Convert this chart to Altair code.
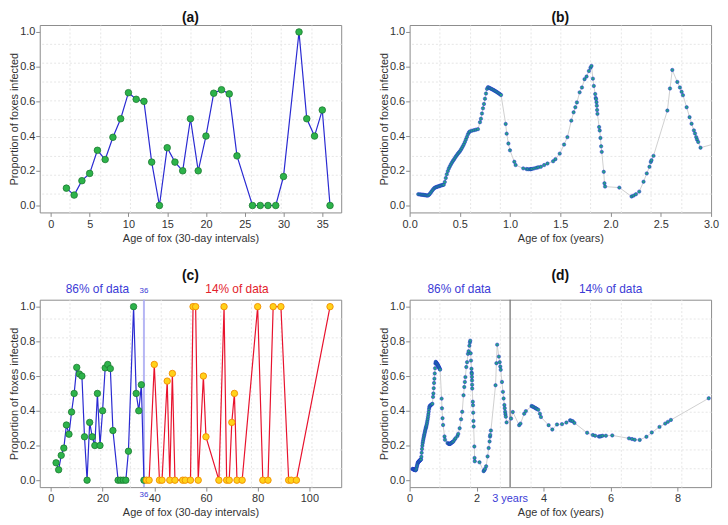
import altair as alt
import pandas as pd

# ---------------- data ----------------
# (a)/(c) young foxes: age in 30-day intervals, proportion infected
young_age = [2, 3, 4, 5, 6, 7, 8, 9, 10, 11, 12, 13, 14, 15, 16, 17, 18, 19, 20,
             21, 22, 23, 24, 26, 27, 28, 29, 30, 32, 33, 34, 35, 36]
young_prop = [0.10, 0.06, 0.143, 0.185, 0.318, 0.265, 0.393, 0.50, 0.65, 0.612,
              0.60, 0.25, 0.0, 0.333, 0.25, 0.20, 0.50, 0.20, 0.40, 0.647,
              0.667, 0.643, 0.286, 0.0, 0.0, 0.0, 0.0, 0.167, 1.0, 0.5,
              0.4, 0.55, 0.0]

# (c) old foxes
old_age = [37, 38, 40, 42, 43, 45, 46, 47, 48, 51, 52, 54, 55, 56, 57, 59, 60,
           65, 67, 68, 69, 70, 71, 72, 74, 80, 82, 84, 86, 89, 92, 93, 95, 108]
old_prop = [0, 0, 0.667, 0, 0, 0.571, 0, 0.615, 0, 0, 0, 0, 1, 1, 0, 0.6, 0.25,
            0, 1, 0, 0, 0.333, 0.5, 0, 0, 1, 0, 0, 1, 1, 0, 0, 0, 1]

# (b)/(d) smoothed curve: age in years, proportion infected
curve_age = [
    0.086, 0.10, 0.11, 0.12, 0.13, 0.14, 0.15, 0.16, 0.17, 0.18, 0.19,
    0.20, 0.21, 0.22, 0.23, 0.24, 0.25, 0.26, 0.27, 0.28, 0.29, 0.30, 0.31, 0.32, 0.33, 0.34,
    0.35, 0.36, 0.37, 0.38, 0.39, 0.40, 0.41, 0.42, 0.43, 0.44, 0.45, 0.46, 0.47, 0.48, 0.49,
    0.50, 0.51, 0.52, 0.53, 0.54, 0.55, 0.56, 0.57, 0.58, 0.59,
    0.60, 0.62, 0.64, 0.66, 0.68,
    0.70, 0.71, 0.72, 0.73, 0.74, 0.75, 0.76, 0.77,
    0.78, 0.79, 0.80, 0.81, 0.82, 0.83, 0.84, 0.85, 0.86, 0.87, 0.88, 0.89, 0.90, 0.91,
    0.956, 0.966, 0.983, 0.999, 1.042, 1.055, 1.131, 1.164, 1.18, 1.20, 1.207, 1.22, 1.24,
    1.263, 1.28, 1.306, 1.339, 1.372, 1.428, 1.451, 1.494, 1.537, 1.57, 1.609, 1.632,
    1.649, 1.665, 1.692, 1.715, 1.741, 1.761, 1.784, 1.80, 1.81, 1.824, 1.833, 1.847,
    1.852, 1.856, 1.86, 1.863, 1.866, 1.869, 1.886, 1.892, 1.899, 1.906, 1.912, 1.932,
    1.939, 1.945, 2.087, 2.209, 2.229, 2.252, 2.285, 2.328, 2.36, 2.387, 2.40, 2.407,
    2.427, 2.565, 2.591, 2.614, 2.664, 2.69, 2.707, 2.72, 2.757, 2.786, 2.806, 2.829,
    2.84, 2.852, 2.86, 2.872, 2.895,
    3.03, 3.08, 3.27, 3.31, 3.42, 3.47, 3.64, 3.67, 3.70, 3.74, 3.77, 3.80, 3.84, 3.89,
    3.92, 4.15, 4.26, 4.40, 4.55, 4.68, 4.79, 4.82, 4.87, 4.92, 5.30, 5.47, 5.54, 5.65,
    5.68, 5.71, 5.76, 5.86, 6.05, 6.55, 6.64, 6.72, 6.87, 7.07, 7.23, 7.46, 7.63, 7.71,
    7.80, 8.93]
curve_prop = [
    0.065, 0.064, 0.063, 0.062, 0.062, 0.061, 0.060, 0.059, 0.058, 0.057, 0.060,
    0.066, 0.074, 0.082, 0.090, 0.097, 0.102, 0.105, 0.107, 0.109, 0.111, 0.113, 0.115, 0.117, 0.118, 0.120,
    0.135, 0.158, 0.180, 0.198, 0.213, 0.225, 0.236, 0.246, 0.256, 0.264, 0.273, 0.282, 0.290, 0.298, 0.305,
    0.312, 0.321, 0.331, 0.342, 0.353, 0.366, 0.380, 0.395, 0.410, 0.421,
    0.427, 0.431, 0.434, 0.437, 0.440,
    0.48, 0.50, 0.53, 0.56, 0.585, 0.615, 0.645, 0.672,
    0.682, 0.679, 0.676, 0.673, 0.670, 0.667, 0.664, 0.660, 0.657, 0.653, 0.649, 0.645, 0.641, 0.637,
    0.47, 0.414, 0.357, 0.318, 0.252, 0.233, 0.214, 0.21, 0.209, 0.209, 0.21, 0.211, 0.214,
    0.217, 0.220, 0.223, 0.233, 0.242, 0.255, 0.267, 0.299, 0.351, 0.394, 0.489, 0.537,
    0.566, 0.594, 0.652, 0.68, 0.728, 0.743, 0.775, 0.794, 0.804, 0.731, 0.689, 0.642,
    0.62, 0.613, 0.595, 0.575, 0.55, 0.528, 0.452, 0.432, 0.389, 0.341, 0.309, 0.194,
    0.128, 0.109, 0.103, 0.052, 0.057, 0.065, 0.08, 0.137, 0.185, 0.223, 0.251, 0.261,
    0.286, 0.547, 0.674, 0.781, 0.712, 0.68, 0.655, 0.636, 0.566, 0.509, 0.471, 0.433,
    0.415, 0.394, 0.38, 0.366, 0.333,
    0.355, 0.393, 0.317, 0.326, 0.383, 0.398, 0.427, 0.425, 0.422, 0.417, 0.414, 0.41, 0.406, 0.383,
    0.364, 0.317, 0.292, 0.321, 0.323, 0.332, 0.345, 0.343, 0.34, 0.33, 0.273, 0.26, 0.256, 0.252,
    0.252, 0.253, 0.256, 0.256, 0.258, 0.241, 0.237, 0.233, 0.232, 0.25, 0.275, 0.307, 0.326, 0.336,
    0.347, 0.472]

y_ticks = [0.0, 0.2, 0.4, 0.6, 0.8, 1.0]

young = pd.DataFrame({"age": young_age, "prop": young_prop})
old = pd.DataFrame({"age": old_age, "prop": old_prop})
curve = pd.DataFrame({"age": curve_age, "prop": curve_prop})
one = pd.DataFrame({"age": [young_age[0]], "prop": [young_prop[0]]})

# ---------------- style ----------------
W, H = 304, 189
FONT = "Liberation Sans"
BLUE_LINE = "#2a2ad2"
GREEN_FILL = "#2db34a"
GREEN_EDGE = "#1d7a33"
RED_LINE = "#e8122d"
GOLD_FILL = "#ffd21a"
GOLD_EDGE = "#f08c00"
TEAL_FILL = "#25a08a"
TEAL_EDGE = "#1c1cd6"
GRAY_LINE = "#cfcfcf"
TXT_BLUE = "#3b3bd6"
TXT_RED = "#e3222c"
YDOM = [-0.04, 1.04]
YTITLE = "Proportion of foxes infected"


def grid_vals(dom):
    return [dom[0] + (dom[1] - dom[0]) * k / 10 for k in range(1, 10)]


def grid_layer(xdom):
    gax = dict(labels=False, ticks=False, domain=False, title=None, grid=True,
               gridColor="#e6e6e6", gridDash=[2, 2], gridWidth=1)
    return alt.Chart(one).mark_point(opacity=0, clip=True).encode(
        x=alt.X("age:Q", scale=alt.Scale(domain=xdom, nice=False, zero=False),
                axis=alt.Axis(orient="top", values=grid_vals(xdom), **gax)),
        y=alt.Y("prop:Q", scale=alt.Scale(domain=YDOM, nice=False, zero=False),
                axis=alt.Axis(orient="right", values=grid_vals(YDOM), **gax)),
    )


def main_enc(xdom, xticks, xfmt, xtitle):
    x = alt.X("age:Q", scale=alt.Scale(domain=xdom, nice=False, zero=False),
              axis=alt.Axis(orient="bottom", values=xticks, format=xfmt, title=xtitle,
                            grid=False, domain=False, tickSize=4, labelPadding=2,
                            titlePadding=3, labelFlush=False))
    y = alt.Y("prop:Q", scale=alt.Scale(domain=YDOM, nice=False, zero=False),
              axis=alt.Axis(orient="left", values=y_ticks, format=".1f", title=YTITLE,
                            grid=False, domain=False, tickSize=4, labelPadding=1,
                            titlePadding=0, labelFlush=False))
    return x, y


def title(t):
    return alt.TitleParams(t, fontSize=14, fontWeight="bold", font=FONT, offset=0,
                           anchor="middle", color="#111")


def note(text, xv, yv, color, size):
    return alt.Chart(one).mark_text(text=text, color=color, font=FONT, fontSize=size).encode(
        x=alt.datum(xv, axis=None), y=alt.datum(yv, axis=None))


noax_x = alt.X("age:Q", axis=None)
noax_y = alt.Y("prop:Q", axis=None)

# ---------- panel (a) ----------
xa = [-1.44, 37.44]
x, y = main_enc(xa, [0, 5, 10, 15, 20, 25, 30, 35], "d", "Age of fox (30-day intervals)")
pa = alt.layer(
    grid_layer(xa),
    alt.Chart(young).mark_line(color=BLUE_LINE, strokeWidth=1.2).encode(x=x, y=y),
    alt.Chart(young).mark_point(filled=True, fill=GREEN_FILL, stroke=GREEN_EDGE,
                                strokeWidth=0.8, size=44, opacity=1).encode(x=noax_x, y=noax_y),
).resolve_axis(x="independent", y="independent").properties(width=W, height=H, title=title("(a)"))

# ---------- panel (b) ----------
xb = [0.0, 3.0]
x, y = main_enc(xb, [0.0, 0.5, 1.0, 1.5, 2.0, 2.5, 3.0], ".1f", "Age of fox (years)")
pb = alt.layer(
    grid_layer(xb),
    alt.Chart(curve).mark_line(color=GRAY_LINE, strokeWidth=1, clip=True).encode(x=x, y=y),
    alt.Chart(curve).mark_point(filled=True, fill=TEAL_FILL, stroke=TEAL_EDGE, strokeWidth=0.45,
                                size=12, opacity=1, clip=True).encode(x=noax_x, y=noax_y),
).resolve_axis(x="independent", y="independent").properties(width=W, height=H, title=title("(b)"))

# ---------- panel (c) ----------
xc = [-4.32, 112.32]
x, y = main_enc(xc, [0, 20, 40, 60, 80, 100], "d", "Age of fox (30-day intervals)")
pc = alt.layer(
    grid_layer(xc),
    alt.Chart(one).mark_rule(color="#a9a9f2", strokeWidth=2, opacity=0.85).encode(
        x=alt.datum(36, axis=None)),
    alt.Chart(young).mark_line(color=BLUE_LINE, strokeWidth=1.2).encode(x=x, y=y),
    alt.Chart(old).mark_line(color=RED_LINE, strokeWidth=1.2).encode(x=noax_x, y=noax_y),
    alt.Chart(young).mark_point(filled=True, fill=GREEN_FILL, stroke=GREEN_EDGE,
                                strokeWidth=0.8, size=42, opacity=1).encode(x=noax_x, y=noax_y),
    alt.Chart(old).mark_point(filled=True, fill=GOLD_FILL, stroke=GOLD_EDGE,
                              strokeWidth=0.9, size=42, opacity=1).encode(x=noax_x, y=noax_y),
    note("86% of data", 18, 1.10, TXT_BLUE, 12),
    note("14% of data", 72, 1.10, TXT_RED, 12),
    note("36", 36, 1.09, TXT_BLUE, 8),
    note("36", 36, -0.085, TXT_BLUE, 8),
).resolve_axis(x="independent", y="independent").properties(width=W, height=H, title=title("(c)"))

# ---------- panel (d) ----------
xd = [0.0, 9.0]
x, y = main_enc(xd, [0, 2, 4, 6, 8], "d", "Age of fox (years)")
pd_ = alt.layer(
    grid_layer(xd),
    alt.Chart(one).mark_rule(color="#777777", strokeWidth=1.3).encode(x=alt.datum(3, axis=None)),
    alt.Chart(curve).mark_line(color=GRAY_LINE, strokeWidth=1).encode(x=x, y=y),
    alt.Chart(curve).mark_point(filled=True, fill=TEAL_FILL, stroke=TEAL_EDGE, strokeWidth=0.45,
                                size=12, opacity=1).encode(x=noax_x, y=noax_y),
    note("86% of data", 1.48, 1.10, TXT_BLUE, 12),
    note("14% of data", 6.0, 1.10, TXT_BLUE, 12),
    note("3 years", 3, -0.108, TXT_BLUE, 11),
).resolve_axis(x="independent", y="independent").properties(width=W, height=H, title=title("(d)"))

chart = alt.concat(pa, pb, pc, pd_, columns=2, spacing={"row": 88, "column": 69},
                   bounds="flush").properties(padding=0)

chart = chart.configure_view(stroke="#8c8c8c", strokeWidth=1).configure_axis(
    labelFont=FONT, titleFont=FONT, labelFontSize=11, titleFontSize=11,
    labelColor="#333333", titleColor="#333333", tickColor="#8c8c8c",
    titleFontWeight="normal")

chart.save("out.html", embed_options={"renderer": "svg", "actions": False})
